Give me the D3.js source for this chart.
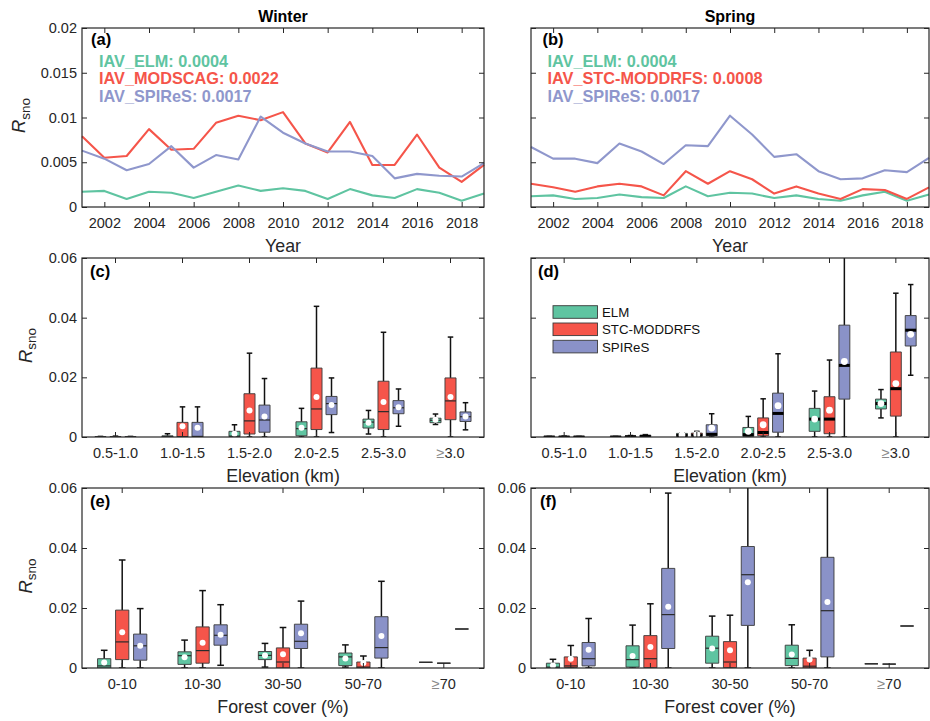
<!DOCTYPE html>
<html><head><meta charset="utf-8">
<script src="https://cdn.jsdelivr.net/npm/d3@7"></script>
<style>body{margin:0;background:#fff;} svg{display:block;}</style>
</head><body>
<svg id="chart" width="930" height="721"></svg>
<script>
// ---------------- DATA ----------------
const years = [2001,2002,2003,2004,2005,2006,2007,2008,2009,2010,2011,2012,2013,2014,2015,2016,2017,2018,2019];
const yearTicks = [2002,2004,2006,2008,2010,2012,2014,2016,2018];
const lineYTicks = [0,0.005,0.01,0.015,0.02];
const lineYTickLabels = ["0","0.005","0.01","0.015","0.02"];
const boxYTicks = [0,0.02,0.04,0.06];
const boxYTickLabels = ["0","0.02","0.04","0.06"];

const winterELM     = [0.0017,0.0018,0.0009,0.0017,0.0016,0.0010,0.0017,0.0024,0.0018,0.0021,0.0018,0.0009,0.0020,0.0013,0.0010,0.0020,0.0016,0.0007,0.0015];
const winterMODSCAG = [0.0079,0.0055,0.0057,0.0087,0.0064,0.0065,0.0094,0.0102,0.0097,0.0106,0.0071,0.0061,0.0095,0.0047,0.0047,0.0081,0.0044,0.0028,0.0047];
const winterSPIReS  = [0.0063,0.0054,0.0041,0.0048,0.0068,0.0044,0.0058,0.0053,0.0101,0.0083,0.0071,0.0062,0.0062,0.0057,0.0032,0.0037,0.0035,0.0034,0.0049];

const springELM     = [0.0012,0.0013,0.0009,0.0010,0.0014,0.0011,0.0010,0.0023,0.0012,0.0016,0.0015,0.0010,0.0013,0.0009,0.0007,0.0013,0.0017,0.0007,0.0014];
const springSTC     = [0.0026,0.0022,0.0017,0.0023,0.0026,0.0023,0.0013,0.0040,0.0026,0.0040,0.0031,0.0015,0.0023,0.0015,0.0009,0.0020,0.0019,0.0009,0.0022];
const springSPIReS  = [0.0067,0.0054,0.0054,0.0049,0.0071,0.0062,0.0048,0.0069,0.0068,0.0102,0.0081,0.0056,0.0059,0.0040,0.0031,0.0032,0.0041,0.0039,0.0055];

const winterAnnot = ["IAV_ELM: 0.0004","IAV_MODSCAG: 0.0022","IAV_SPIReS: 0.0017"];
const springAnnot = ["IAV_ELM: 0.0004","IAV_STC-MODDRFS: 0.0008","IAV_SPIReS: 0.0017"];
const legendNames = ["ELM","STC-MODDRFS","SPIReS"];

const elevCats   = ["0.5-1.0","1.0-1.5","1.5-2.0","2.0-2.5","2.5-3.0","≥3.0"];
const forestCats = ["0-10","10-30","30-50","50-70","≥70"];

// box statistics: [lower whisker, q1, median, q3, upper whisker, mean]
const winterElevELM = [
  [0,0,0,0.0001,0.0002,null],[0,0,0.0001,0.0004,0.0011,null],[0,0.0001,0.0003,0.0019,0.0041,0.0011],
  [0,0.0004,0.0028,0.0051,0.0096,0.0031],[0.0010,0.0030,0.0050,0.0060,0.0089,0.0048],[0.0042,0.0048,0.0056,0.0063,0.0077,0.0058]];
const winterElevMODSCAG = [
  [0,0,0,0.0001,0.0003,null],[0,0,0.0001,0.0049,0.0101,0.0036],[0,0.0010,0.0054,0.0145,0.0281,0.0089],
  [0,0.0025,0.0094,0.0231,0.0438,0.0134],[0,0.0025,0.0085,0.0187,0.0351,0.0117],[0,0.0058,0.0121,0.0198,0.0335,0.0134]];
const winterElevSPIReS = [
  [0,0,0,0.0001,0.0002,null],[0,0,0.0002,0.0049,0.0101,0.0031],[0,0.0016,0.0057,0.0107,0.0196,0.0069],
  [0.0015,0.0075,0.0112,0.0136,0.0198,0.0107],[0.0036,0.0078,0.0098,0.0122,0.0161,0.0100],[0.0024,0.0052,0.0068,0.0084,0.0115,0.0069]];

const springElevELM = [
  [0,0,0,0.0001,0.0002,null],[0,0,0,0.0001,0.0002,null],[0,0.0002,0.0005,0.0012,0.0014,0.0007],
  [0,0.0002,0.0008,0.0032,0.0069,0.0019],[0,0.0019,0.0060,0.0096,0.0154,0.0060],[0.0064,0.0094,0.0112,0.0127,0.0159,0.0112]];
const springElevSTC = [
  [0,0,0,0.0001,0.0003,null],[0,0,0.0001,0.0003,0.0005,null],[0,0.0003,0.0006,0.0013,0.0019,0.0008],
  [0,0.0004,0.0015,0.0064,0.0128,0.0041],[0,0.0011,0.0060,0.0135,0.0258,0.0090],[0,0.0070,0.0162,0.0285,0.0482,0.0179]];
const springElevSPIReS = [
  [0,0,0,0.0001,0.0002,null],[0,0.0001,0.0002,0.0006,0.0008,null],[0,0.0004,0.0009,0.0041,0.0078,0.0030],
  [0,0.0016,0.0079,0.0147,0.0279,0.0105],[0,0.0127,0.0240,0.0375,0.0700,0.0253],[0.0207,0.0305,0.0358,0.0407,0.0511,0.0344]];

const winterForestELM = [
  [0,0,0.0007,0.0031,0.0059,0.0018],[0,0.0012,0.0041,0.0054,0.0093,0.0036],[0.0003,0.0028,0.0042,0.0055,0.0082,0.0042],
  [0.0003,0.0008,0.0037,0.0050,0.0077,0.0032],[0.0019,0.0019,0.0019,0.0019,0.0019,null]];
const winterForestMODSCAG = [
  [0,0.0028,0.0087,0.0193,0.0360,0.0119],[0,0.0016,0.0058,0.0137,0.0258,0.0084],[0,0,0.0020,0.0067,0.0135,0.0046],
  [0,0,0.0003,0.0020,0.0040,0.0017],[0.0016,0.0016,0.0016,0.0016,0.0016,null]];
const winterForestSPIReS = [
  [0,0.0026,0.0074,0.0113,0.0198,0.0074],[0.0009,0.0076,0.0109,0.0144,0.0211,0.0111],[0,0.0065,0.0089,0.0146,0.0223,0.0116],
  [0,0.0033,0.0068,0.0171,0.0289,0.0107],[0.0130,0.0130,0.0130,0.0130,0.0130,null]];

const springForestELM = [
  [0,0,0.0003,0.0016,0.0029,0.0008],[0,0.0003,0.0028,0.0074,0.0143,0.0040],[0,0.0016,0.0066,0.0106,0.0173,0.0065],
  [0,0.0008,0.0032,0.0076,0.0144,0.0045],[0.0014,0.0014,0.0014,0.0014,0.0014,null]];
const springForestSTC = [
  [0,0.0002,0.0007,0.0037,0.0075,0.0031],[0,0.0001,0.0031,0.0108,0.0214,0.0070],[0,0.0001,0.0020,0.0088,0.0176,0.0059],
  [0,0,0.0006,0.0033,0.0059,0.0028],[0.0013,0.0013,0.0013,0.0013,0.0013,null]];
const springForestSPIReS = [
  [0,0.0007,0.0031,0.0085,0.0165,0.0061],[0,0.0065,0.0178,0.0332,0.0583,0.0204],[0,0.0142,0.0311,0.0405,0.0700,0.0286],
  [0,0.0037,0.0191,0.0369,0.0700,0.0220],[0.0140,0.0140,0.0140,0.0140,0.0140,null]];

// ---------------- STYLE ----------------
const FONT = '"Liberation Sans", Arial, Helvetica, sans-serif';
const AX = "#262626";
const BOX_COLORS  = ["#5fc4a1","#f5554a","#8a92c8"];
const LINE_COLORS = ["#5fc4a1","#f5554a","#8f97cc"];
const cols = [[82,484],[531,929]];
const rows = [[28,207],[258,437],[488,668]];

const svg = d3.select("#chart");

function styleAxis(sel){
  sel.select(".domain").remove();
  sel.attr("font-family",FONT).attr("font-size",14.5);
  sel.selectAll(".tick line").attr("stroke",AX).attr("stroke-width",1);
  sel.selectAll(".tick text").attr("fill",AX);
}
function frame(g,x0,x1,y0,y1){
  g.append("rect").attr("x",x0).attr("y",y0).attr("width",x1-x0).attr("height",y1-y0)
   .attr("fill","none").attr("stroke",AX).attr("stroke-width",1.2);
}
function yAxes(g,y,x0,x1,ticks,labels,show){
  g.append("g").attr("transform",`translate(${x0},0)`)
   .call(d3.axisLeft(y).tickValues(ticks).tickSize(-5).tickPadding(5).tickFormat((d,i)=>show?labels[i]:""))
   .call(styleAxis);
  g.append("g").attr("transform",`translate(${x1},0)`)
   .call(d3.axisRight(y).tickValues(ticks).tickSize(-5).tickFormat(""))
   .call(styleAxis);
}
function yLabel(g,x,yc){
  const t = g.append("text").attr("transform",`translate(${x},${yc}) rotate(-90)`)
    .attr("text-anchor","middle").attr("font-family",FONT).attr("fill",AX);
  t.append("tspan").attr("font-size",18.5).attr("font-style","italic").text("R");
  t.append("tspan").attr("font-size",13.5).attr("dy",4.5).text("sno");
}
function xLabel(g,xc,yb,text){
  g.append("text").attr("x",xc).attr("y",yb).attr("text-anchor","middle")
   .attr("font-family",FONT).attr("font-size",17.8).attr("fill",AX).text(text);
}
function letter(g,x,y,t){
  g.append("text").attr("x",x).attr("y",y).attr("font-family",FONT).attr("font-size",16.5)
   .attr("font-weight","bold").attr("fill","#000").text(t);
}

// ---------------- LINE PANELS ----------------
function linePanel(col,row,seriesList,annot,opts){
  const [x0,x1]=col,[y0,y1]=row;
  const g = svg.append("g");
  const x = d3.scaleLinear().domain([years[0],years[years.length-1]]).range([x0,x1]);
  const y = d3.scaleLinear().domain([0,0.02]).range([y1,y0]);
  const line = d3.line().x((d,i)=>x(years[i])).y(d=>y(d));
  g.selectAll("path.series").data(seriesList).join("path").attr("class","series")
    .attr("d",d=>line(d)).attr("fill","none").attr("stroke",(d,i)=>LINE_COLORS[i])
    .attr("stroke-width",2.1).attr("stroke-linejoin","round");
  g.append("g").attr("transform",`translate(0,${y1})`)
   .call(d3.axisBottom(x).tickValues(yearTicks).tickSize(-5).tickPadding(11).tickFormat(d3.format("d")))
   .call(styleAxis);
  g.append("g").attr("transform",`translate(0,${y0})`)
   .call(d3.axisTop(x).tickValues(yearTicks).tickSize(-5).tickFormat(""))
   .call(styleAxis);
  yAxes(g,y,x0,x1,lineYTicks,lineYTickLabels,opts.showY);
  frame(g,x0,x1,y0,y1);
  g.selectAll("text.annot").data(annot).join("text").attr("class","annot")
   .attr("x",opts.annotX).attr("y",(d,i)=>66.5+i*17.5)
   .attr("font-family",FONT).attr("font-size",16.3).attr("font-weight","bold")
   .attr("fill",(d,i)=>LINE_COLORS[i]).text(d=>d);
  letter(g,opts.letterX,45,opts.letter);
  g.append("text").attr("x",(x0+x1)/2).attr("y",21.5).attr("text-anchor","middle")
   .attr("font-family",FONT).attr("font-size",16).attr("font-weight","bold").attr("fill","#000").text(opts.title);
  xLabel(g,(x0+x1)/2,y1+45,"Year");
  if(opts.ylab) yLabel(g,opts.ylabX,(y0+y1)/2-2);
}

// ---------------- BOX PANELS ----------------
function boxPanel(col,row,cats,series,opts){
  const [x0,x1]=col,[y0,y1]=row;
  const g = svg.append("g");
  const x = d3.scaleBand().domain(cats).range([x0,x1]);
  const y = d3.scaleLinear().domain([0,0.06]).range([y1,y0]);
  const bw = x.bandwidth(), w = bw*0.165, off = bw*0.224, cap = w*0.5;
  const clipId = "clip-"+opts.id;
  svg.append("defs").append("clipPath").attr("id",clipId)
    .append("rect").attr("x",x0).attr("y",y0).attr("width",x1-x0).attr("height",y1-y0);
  const items = series.flatMap((stats,si)=>stats.map((s,ci)=>({
    si, cx: x(cats[ci]) + bw/2 + (si-1)*off,
    lo:s[0], q1:s[1], md:s[2], q3:s[3], hi:s[4], mn:s[5]})));
  const pg = g.append("g").attr("clip-path",`url(#${clipId})`);
  const bx = pg.selectAll("g.box").data(items).join("g").attr("class","box");
  bx.append("line").attr("x1",d=>d.cx).attr("x2",d=>d.cx).attr("y1",d=>y(d.q3)).attr("y2",d=>y(d.hi))
    .attr("stroke","#111").attr("stroke-width",1.5);
  bx.append("line").attr("x1",d=>d.cx).attr("x2",d=>d.cx).attr("y1",d=>y(d.q1)).attr("y2",d=>y(d.lo))
    .attr("stroke","#111").attr("stroke-width",1.5);
  bx.filter(d=>d.hi>d.q3).append("line").attr("x1",d=>d.cx-cap/2).attr("x2",d=>d.cx+cap/2)
    .attr("y1",d=>y(d.hi)).attr("y2",d=>y(d.hi)).attr("stroke","#111").attr("stroke-width",1.5);
  bx.filter(d=>d.lo<d.q1).append("line").attr("x1",d=>d.cx-cap/2).attr("x2",d=>d.cx+cap/2)
    .attr("y1",d=>y(d.lo)).attr("y2",d=>y(d.lo)).attr("stroke","#111").attr("stroke-width",1.5);
  bx.append("rect").attr("x",d=>d.cx-w/2).attr("width",w)
    .attr("y",d=>y(d.q3)).attr("height",d=>Math.max(0,y(d.q1)-y(d.q3)))
    .attr("fill",d=>BOX_COLORS[d.si]);
  bx.append("path").attr("d",d=>`M${d.cx-w/2},${y(d.q1)}H${d.cx+w/2}V${y(d.q3)}H${d.cx-w/2}Z`)
    .attr("fill","none").attr("stroke","#3a3a3a").attr("stroke-width",0.9);
  bx.append("line").attr("x1",d=>d.cx-w/2).attr("x2",d=>d.cx+w/2)
    .attr("y1",d=>y(d.md)).attr("y2",d=>y(d.md))
    .attr("stroke",opts.thickMedian?"#000":"#2a2a2a").attr("stroke-width",opts.thickMedian?3:1.2);
  bx.filter(d=>d.mn!==null).append("circle").attr("cx",d=>d.cx).attr("cy",d=>y(d.mn))
    .attr("r",opts.thickMedian?3.4:3).attr("fill","#fff");

  const xb = g.append("g").attr("transform",`translate(0,${y1})`)
   .call(d3.axisBottom(x).tickSize(-5).tickPadding(11)).call(styleAxis);
  xb.selectAll(".tick text").each(function(d){
    if(d.startsWith("≥")){
      const t = d3.select(this); t.text(null);
      t.append("tspan").attr("fill","#8a8a8a").text("≥");
      t.append("tspan").text(d.slice(1));
    }
  });
  g.append("g").attr("transform",`translate(0,${y0})`)
   .call(d3.axisTop(x).tickSize(-5).tickFormat("")).call(styleAxis);
  yAxes(g,y,x0,x1,boxYTicks,boxYTickLabels,opts.showY);
  frame(g,x0,x1,y0,y1);
  letter(g,opts.letterX,y0+19,opts.letter);
  xLabel(g,(x0+x1)/2,y1+44.5,opts.xlab);
  if(opts.ylab) yLabel(g,opts.ylabX,(y0+y1)/2-2);
  if(opts.legend){
    const lg = g.append("g");
    const it = lg.selectAll("g").data(legendNames).join("g")
      .attr("transform",(d,i)=>`translate(553,${305.7+i*17.3})`);
    it.append("rect").attr("width",44.5).attr("height",12.6).attr("fill",(d,i)=>BOX_COLORS[i])
      .attr("stroke","#3a3a3a").attr("stroke-width",0.9);
    it.append("text").attr("x",49).attr("y",11.2).attr("font-family",FONT).attr("font-size",13.3)
      .attr("fill","#111").text(d=>d);
  }
}

linePanel(cols[0],rows[0],[winterELM,winterMODSCAG,winterSPIReS],winterAnnot,
  {showY:true,annotX:99,letter:"(a)",letterX:91,title:"Winter",ylab:true,ylabX:25});
linePanel(cols[1],rows[0],[springELM,springSTC,springSPIReS],springAnnot,
  {showY:false,annotX:547.5,letter:"(b)",letterX:542.5,title:"Spring",ylab:false});

boxPanel(cols[0],rows[1],elevCats,[winterElevELM,winterElevMODSCAG,winterElevSPIReS],
  {id:"c",showY:true,letter:"(c)",letterX:90,xlab:"Elevation (km)",ylab:true,ylabX:31.5,thickMedian:false});
boxPanel(cols[1],rows[1],elevCats,[springElevELM,springElevSTC,springElevSPIReS],
  {id:"d",showY:false,letter:"(d)",letterX:538,xlab:"Elevation (km)",ylab:false,thickMedian:true,legend:true});
boxPanel(cols[0],rows[2],forestCats,[winterForestELM,winterForestMODSCAG,winterForestSPIReS],
  {id:"e",showY:true,letter:"(e)",letterX:90,xlab:"Forest cover (%)",ylab:true,ylabX:31.5,thickMedian:false});
boxPanel(cols[1],rows[2],forestCats,[springForestELM,springForestSTC,springForestSPIReS],
  {id:"f",showY:true,letter:"(f)",letterX:540,xlab:"Forest cover (%)",ylab:false,thickMedian:false});
</script>
</body></html>
